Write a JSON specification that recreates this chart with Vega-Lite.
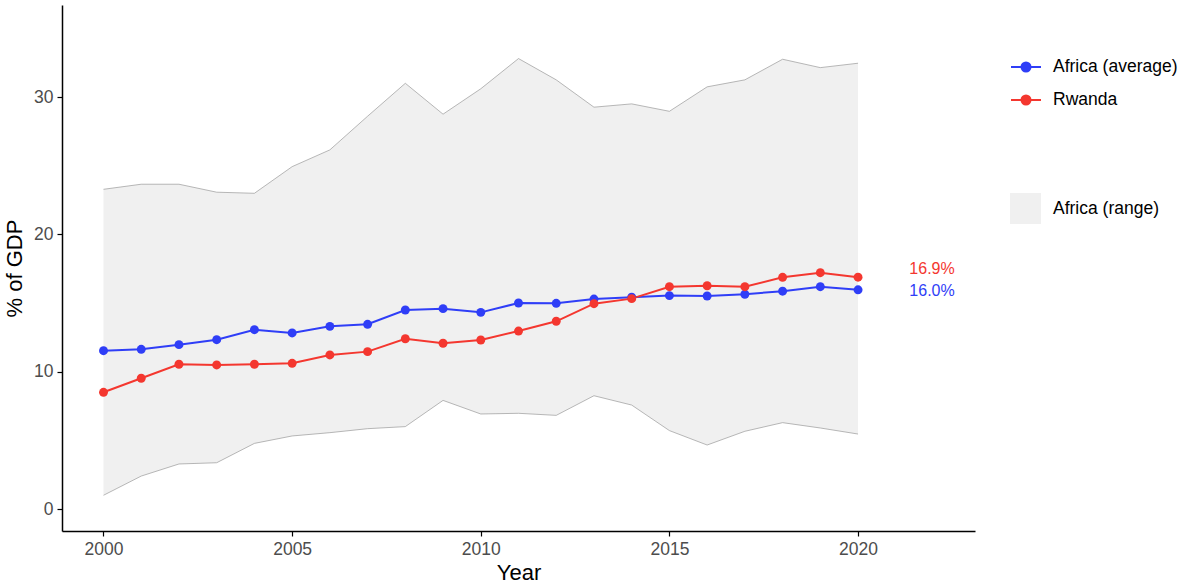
{
  "$schema": "https://vega.github.io/schema/vega-lite/v6.json",
  "width": 913,
  "height": 526,
  "autosize": {"type": "none"},
  "padding": {"left": 62, "top": 5, "right": 206, "bottom": 54},
  "config": {
    "view": {"stroke": null},
    "font": "Liberation Sans",
    "axis": {
      "grid": false,
      "domainColor": "#000000",
      "domainWidth": 1.5,
      "tickColor": "#000000",
      "tickWidth": 1.2,
      "tickSize": 5,
      "labelFont": "Liberation Sans",
      "labelFontSize": 17.5,
      "labelColor": "#4d4d4d",
      "labelPadding": 4,
      "titleFont": "Liberation Sans",
      "titleFontSize": 22,
      "titleFontWeight": "normal",
      "titleColor": "#000000"
    }
  },
  "datasets": {
    "series": [
      {"year": 2000, "series": "Africa (average)", "value": 11.53},
      {"year": 2001, "series": "Africa (average)", "value": 11.63},
      {"year": 2002, "series": "Africa (average)", "value": 11.97},
      {"year": 2003, "series": "Africa (average)", "value": 12.33},
      {"year": 2004, "series": "Africa (average)", "value": 13.06},
      {"year": 2005, "series": "Africa (average)", "value": 12.82},
      {"year": 2006, "series": "Africa (average)", "value": 13.30},
      {"year": 2007, "series": "Africa (average)", "value": 13.45},
      {"year": 2008, "series": "Africa (average)", "value": 14.49},
      {"year": 2009, "series": "Africa (average)", "value": 14.59},
      {"year": 2010, "series": "Africa (average)", "value": 14.32},
      {"year": 2011, "series": "Africa (average)", "value": 15.00},
      {"year": 2012, "series": "Africa (average)", "value": 14.98},
      {"year": 2013, "series": "Africa (average)", "value": 15.29},
      {"year": 2014, "series": "Africa (average)", "value": 15.42},
      {"year": 2015, "series": "Africa (average)", "value": 15.54},
      {"year": 2016, "series": "Africa (average)", "value": 15.51},
      {"year": 2017, "series": "Africa (average)", "value": 15.64},
      {"year": 2018, "series": "Africa (average)", "value": 15.86},
      {"year": 2019, "series": "Africa (average)", "value": 16.19},
      {"year": 2020, "series": "Africa (average)", "value": 15.96},
      {"year": 2000, "series": "Rwanda", "value": 8.50},
      {"year": 2001, "series": "Rwanda", "value": 9.52},
      {"year": 2002, "series": "Rwanda", "value": 10.54},
      {"year": 2003, "series": "Rwanda", "value": 10.49},
      {"year": 2004, "series": "Rwanda", "value": 10.54},
      {"year": 2005, "series": "Rwanda", "value": 10.61},
      {"year": 2006, "series": "Rwanda", "value": 11.22},
      {"year": 2007, "series": "Rwanda", "value": 11.46},
      {"year": 2008, "series": "Rwanda", "value": 12.40},
      {"year": 2009, "series": "Rwanda", "value": 12.07},
      {"year": 2010, "series": "Rwanda", "value": 12.31},
      {"year": 2011, "series": "Rwanda", "value": 12.96},
      {"year": 2012, "series": "Rwanda", "value": 13.67},
      {"year": 2013, "series": "Rwanda", "value": 14.95},
      {"year": 2014, "series": "Rwanda", "value": 15.32},
      {"year": 2015, "series": "Rwanda", "value": 16.19},
      {"year": 2016, "series": "Rwanda", "value": 16.26},
      {"year": 2017, "series": "Rwanda", "value": 16.19},
      {"year": 2018, "series": "Rwanda", "value": 16.87},
      {"year": 2019, "series": "Rwanda", "value": 17.21},
      {"year": 2020, "series": "Rwanda", "value": 16.88}
    ],
    "range": [
      {"year": 2000, "lo": 1.00, "hi": 23.28},
      {"year": 2001, "lo": 2.40, "hi": 23.65},
      {"year": 2002, "lo": 3.28, "hi": 23.65},
      {"year": 2003, "lo": 3.37, "hi": 23.07},
      {"year": 2004, "lo": 4.78, "hi": 22.99},
      {"year": 2005, "lo": 5.32, "hi": 24.93},
      {"year": 2006, "lo": 5.56, "hi": 26.15},
      {"year": 2007, "lo": 5.85, "hi": 28.60},
      {"year": 2008, "lo": 6.00, "hi": 31.00},
      {"year": 2009, "lo": 7.91, "hi": 28.75},
      {"year": 2010, "lo": 6.92, "hi": 30.60},
      {"year": 2011, "lo": 6.97, "hi": 32.80},
      {"year": 2012, "lo": 6.82, "hi": 31.25},
      {"year": 2013, "lo": 8.25, "hi": 29.26},
      {"year": 2014, "lo": 7.57, "hi": 29.50},
      {"year": 2015, "lo": 5.71, "hi": 28.96},
      {"year": 2016, "lo": 4.66, "hi": 30.74},
      {"year": 2017, "lo": 5.66, "hi": 31.25},
      {"year": 2018, "lo": 6.29, "hi": 32.75},
      {"year": 2019, "lo": 5.90, "hi": 32.14},
      {"year": 2020, "lo": 5.46, "hi": 32.46}
    ]
  },
  "encoding": {
    "x": {
      "field": "year",
      "type": "quantitative",
      "scale": {"domain": [1998.9, 2023.1], "nice": false, "zero": false},
      "axis": {"values": [2000, 2005, 2010, 2015, 2020], "format": "d", "title": "Year", "titlePadding": 5, "labelPadding": 4}
    }
  },
  "layer": [
    {
      "data": {"name": "range"},
      "mark": {"type": "area", "opacity": 1},
      "encoding": {
        "y": {
          "field": "lo",
          "type": "quantitative",
          "scale": {"domain": [-1.6, 36.7], "nice": false, "zero": false},
          "axis": {"values": [0, 10, 20, 30], "title": "% of GDP", "titlePadding": 7}
        },
        "y2": {"field": "hi"},
        "fill": {
          "datum": "Africa (range)",
          "type": "nominal",
          "scale": {"range": ["#f0f0f0"]},
          "legend": {
            "orient": "none",
            "legendX": 948,
            "legendY": 188,
            "title": null,
            "padding": 0,
            "symbolType": "square",
            "symbolSize": 961,
            "symbolStrokeWidth": 0,
            "symbolOpacity": 1,
            "labelOffset": 12,
            "labelFontSize": 17.5,
            "labelColor": "#000000",
            "labelFont": "Liberation Sans"
          }
        }
      }
    },
    {
      "data": {"name": "range"},
      "mark": {"type": "line", "color": "#9a9a9a", "strokeWidth": 0.7},
      "encoding": {"y": {"field": "lo", "type": "quantitative"}}
    },
    {
      "data": {"name": "range"},
      "mark": {"type": "line", "color": "#9a9a9a", "strokeWidth": 0.7},
      "encoding": {"y": {"field": "hi", "type": "quantitative"}}
    },
    {
      "data": {"name": "series"},
      "mark": {"type": "line", "strokeWidth": 2},
      "encoding": {
        "y": {"field": "value", "type": "quantitative"},
        "color": {
          "field": "series",
          "type": "nominal",
          "scale": {"domain": ["Africa (average)", "Rwanda"], "range": ["#2f3ef7", "#f4372f"]},
          "legend": {
            "orient": "none",
            "legendX": 948,
            "legendY": 46,
            "title": null,
            "padding": 0,
            "symbolType": "M-1,0H1M0.3,0A0.3,0.3 0 1,1 -0.3,0A0.3,0.3 0 1,1 0.3,0Z",
            "symbolSize": 900,
            "symbolStrokeWidth": 2,
            "rowPadding": 8,
            "labelOffset": 11,
            "labelFontSize": 17.5,
            "labelColor": "#000000",
            "labelFont": "Liberation Sans",
            "encode": {
              "symbols": {"update": {"fill": {"scale": "color", "field": "value"}, "stroke": {"scale": "color", "field": "value"}, "opacity": {"value": 1}}}
            }
          }
        }
      }
    },
    {
      "data": {"name": "series"},
      "mark": {"type": "point", "shape": "circle", "filled": true, "size": 80, "opacity": 1},
      "encoding": {
        "y": {"field": "value", "type": "quantitative"},
        "color": {"field": "series", "type": "nominal"}
      }
    },
    {
      "data": {"name": "series"},
      "transform": [
        {"filter": "datum.year == 2020 && datum.series == 'Rwanda'"},
        {"calculate": "format(datum.value, '.1f') + '%'", "as": "label"}
      ],
      "mark": {"type": "text", "dx": 74, "dy": -8, "fontSize": 16, "align": "center", "baseline": "middle"},
      "encoding": {
        "y": {"field": "value", "type": "quantitative"},
        "text": {"field": "label"},
        "color": {"field": "series", "type": "nominal"}
      }
    },
    {
      "data": {"name": "series"},
      "transform": [
        {"filter": "datum.year == 2020 && datum.series == 'Africa (average)'"},
        {"calculate": "format(datum.value, '.1f') + '%'", "as": "label"}
      ],
      "mark": {"type": "text", "dx": 74, "dy": 1, "fontSize": 16, "align": "center", "baseline": "middle"},
      "encoding": {
        "y": {"field": "value", "type": "quantitative"},
        "text": {"field": "label"},
        "color": {"field": "series", "type": "nominal"}
      }
    }
  ]
}
